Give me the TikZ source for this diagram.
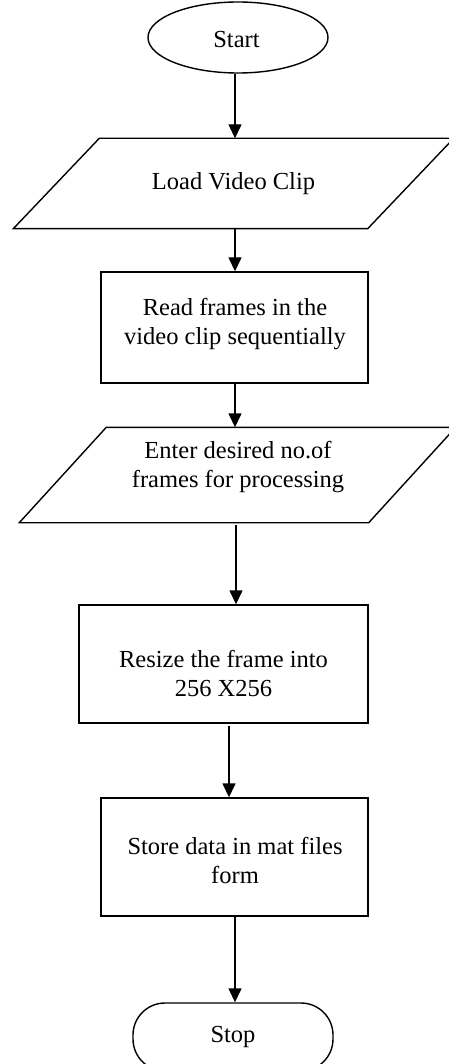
\documentclass[tikz,border=0pt]{standalone}
\usepackage{fontspec}
\setmainfont{Liberation Serif}
\usetikzlibrary{arrows.meta,shapes.geometric,calc}
\begin{document}
\begin{tikzpicture}[x=1pt,y=-1pt,line width=1.4pt,
  arr/.style={-{Triangle[width=13pt,length=14pt]},line width=1.4pt},
  txt/.style={font=\fontsize{24.5}{29}\selectfont,align=center,inner sep=0pt},
  shapebox/.style={rectangle,inner sep=0pt},
  procbox/.style={draw,rectangle,inner sep=0pt}]
\useasboundingbox (0,0) rectangle (449,1064);

% Start
\node[draw,ellipse,minimum width=180pt,minimum height=71pt,inner sep=0pt] (start) at (238,37.5) {};
\node[txt] (startt) at (236.5,40) {Start};

% Load Video Clip (parallelogram)
\node[shapebox,minimum width=353pt,minimum height=89pt] (load) at (233.5,183.5) {};
\draw ($(load.north west)+(43,0)$) -- ($(load.north east)+(43,0)$)
  -- ($(load.south east)+(-43,0)$) -- ($(load.south west)+(-43,0)$) -- cycle;
\node[txt] (loadt) at (233.5,183.5) {Load Video Clip};

% Read frames
\node[procbox,minimum width=267pt,minimum height=111pt] (read) at (234.5,327.5) {};
\node[txt] (readt) at (235,324) {Read frames in the\\video clip sequentially};

% Enter desired (parallelogram)
\node[shapebox,minimum width=348pt,minimum height=94pt] (enter) at (237.5,475) {};
\draw ($(enter.north west)+(43.5,0)$) -- ($(enter.north east)+(43.5,0)$)
  -- ($(enter.south east)+(-43.5,0)$) -- ($(enter.south west)+(-43.5,0)$) -- cycle;
\node[txt] (entert) at (238,467.5) {Enter desired no.of\\frames for processing};

% Resize
\node[procbox,minimum width=289pt,minimum height=118pt] (resize) at (223.5,664) {};
\node[txt] (resizet) at (223.5,673) {Resize the frame into\\256 X256};

% Store
\node[procbox,minimum width=267pt,minimum height=118pt] (store) at (234.5,857) {};
\node[txt] (storet) at (235,860) {Store data in mat files\\form};

% Stop
\node[draw,rectangle,rounded corners=32pt,minimum width=200pt,minimum height=68pt,inner sep=0pt] (stop) at (233,1037) {};
\node[txt] (stopt) at (233,1037) {Stop};

% connectors
\coordinate (c1) at (235,0);
\coordinate (c4) at (236,0);
\coordinate (c5) at (229,0);
\draw[arr] (start.south -| c1) -- (load.north -| c1);
\draw[arr] (load.south -| c1) -- (read.north -| c1);
\draw[arr] (read.south -| c1) -- (enter.north -| c1);
\draw[arr] ([yshift=-2pt]enter.south -| c4) -- (resize.north -| c4);
\draw[arr] ([yshift=-2pt]resize.south -| c5) -- (store.north -| c5);
\draw[arr] (store.south -| c1) -- (stop.north -| c1);
\end{tikzpicture}
\end{document}
